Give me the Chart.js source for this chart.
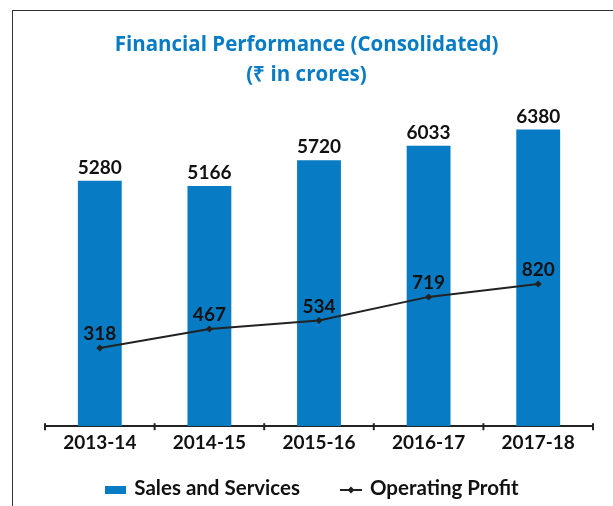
<!DOCTYPE html>
<html>
<head>
<meta charset="utf-8">
<script src="https://cdn.jsdelivr.net/npm/chart.js@4.4.1/dist/chart.umd.min.js"></script>
<style>
  body { margin: 0; background: #fff; }
  #wrap { position: relative; width: 613px; height: 506px; overflow: hidden; }
  #frame { position: absolute; left: 12px; top: 10px; width: 700px; height: 600px;
           border-left: 1px solid #333; border-top: 1px solid #333; }
  #c { position: absolute; left: 0; top: 0; }
  #legend { position: absolute; left: 0; width: 624px; top: 475px; height: 24px;
            display: flex; justify-content: center; align-items: center;
            font: bold 20.5px Lato, sans-serif; color: #111; }
  #legend .item { display: flex; align-items: center; margin: 0 20px; white-space: nowrap; }
  #legend .swatch { width: 21px; height: 8px; margin-right: 8px; margin-top: 6px; }
  #legend canvas { margin-right: 8px; margin-top: 2px; }
</style>
</head>
<body>
<div id="wrap">
  <div id="frame"></div>
  <canvas id="c" width="613" height="506"></canvas>
  <div id="legend"></div>
</div>
<script>
var years = ["2013-14", "2014-15", "2015-16", "2016-17", "2017-18"];
var sales = [5280, 5166, 5720, 6033, 6380];
var profit = [318, 467, 534, 719, 820];
var seriesNames = ["Sales and Services", "Operating Profit"];

var blue = "#077cc4";
var dark = "#222222";

Chart.defaults.font.family = "Lato, 'Open Sans', sans-serif";
Chart.defaults.font.weight = "bold";
Chart.defaults.color = "#111";

// marker for the line in the legend: short line with a diamond
function lineIcon() {
    var cv = document.createElement("canvas");
    cv.width = 22;
    cv.height = 14;
    var g = cv.getContext("2d");
    g.strokeStyle = dark;
    g.lineWidth = 2;
    g.beginPath();
    g.moveTo(0, 9);
    g.lineTo(22, 9);
    g.stroke();
    g.fillStyle = dark;
    g.beginPath();
    g.moveTo(11, 5.5);
    g.lineTo(14.5, 9);
    g.lineTo(11, 12.5);
    g.lineTo(7.5, 9);
    g.closePath();
    g.fill();
    return cv;
}

var valueLabels = {
    id: "valueLabels",
    afterDatasetsDraw: function(chart) {
        var ctx = chart.ctx;
        ctx.save();
        ctx.font = "bold 19px Lato";
        ctx.fillStyle = "#111";
        ctx.textAlign = "center";
        ctx.textBaseline = "alphabetic";
        chart.data.datasets.forEach(function(ds, di) {
            var meta = chart.getDatasetMeta(di);
            meta.data.forEach(function(el, i) {
                var off = ds.type === "line" ? 8 : 7;
                ctx.fillText(ds.data[i], el.x, el.y - off);
            });
        });
        // small tick marks crossing the category axis
        var xs = chart.scales.x;
        var n = years.length;
        ctx.strokeStyle = dark;
        ctx.lineWidth = 2;
        for (var k = 0; k <= n; k++) {
            var px = xs.left + k * xs.width / n;
            ctx.beginPath();
            ctx.moveTo(px, xs.top - 3);
            ctx.lineTo(px, xs.top + 4);
            ctx.stroke();
        }
        ctx.restore();
    }
};

var ctx = document.getElementById("c").getContext("2d");
var myChart = new Chart(ctx, {
    type: "bar",
    data: {
        labels: years,
        datasets: [{
            label: seriesNames[0],
            data: sales,
            backgroundColor: blue,
            barPercentage: 0.4,
            categoryPercentage: 1,
            yAxisID: "y",
            order: 2
        }, {
            type: "line",
            label: seriesNames[1],
            data: profit,
            borderColor: dark,
            backgroundColor: dark,
            borderWidth: 2,
            pointStyle: "rectRot",
            pointRadius: 3.5,
            pointBackgroundColor: dark,
            pointBorderWidth: 0,
            tension: 0,
            yAxisID: "y1",
            order: 1
        }]
    },
    options: {
        responsive: false,
        animation: false,
        layout: { padding: { top: 20, left: 20, right: 20, bottom: 47 } },
        scales: {
            x: {
                grid: { display: false, drawTicks: false },
                border: { display: true, color: dark, width: 2 },
                ticks: { padding: 5, color: "#111", font: { size: 19, weight: "bold" } }
            },
            // invisible value axis, only keeps an empty band on the left
            y: {
                min: 0, max: 7000,
                grid: { display: false },
                border: { display: false },
                ticks: { display: false },
                afterFit: function(scale) { scale.width = 25; }
            },
            y1: { display: false, min: -294, max: 2256 }
        },
        plugins: {
            tooltip: { enabled: false },
            legend: { display: false },
            title: {
                display: true,
                text: ["Financial Performance (Consolidated)", "(\u20b9 in crores)"],
                color: blue,
                font: { family: "'Open Sans', sans-serif", size: 20.5, weight: "bold", lineHeight: 1.48 },
                padding: { top: 10, bottom: 10 }
            }
        }
    },
    plugins: [valueLabels]
});

// legend below the axis, built from the dataset names and colours
var legendBox = document.getElementById("legend");
myChart.data.datasets.forEach(function(ds) {
    var item = document.createElement("div");
    item.className = "item";
    var mark;
    if (ds.type === "line") {
        mark = lineIcon();
    } else {
        mark = document.createElement("span");
        mark.className = "swatch";
        mark.style.background = ds.backgroundColor;
    }
    item.appendChild(mark);
    item.appendChild(document.createTextNode(ds.label));
    legendBox.appendChild(item);
});
</script>
</body>
</html>
